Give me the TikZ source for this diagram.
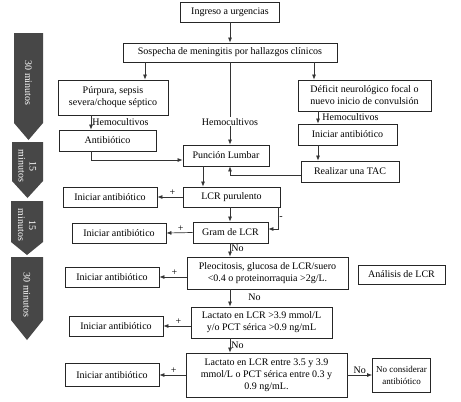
\documentclass[tikz,border=0pt]{standalone}
\usepackage{fontspec}
\setmainfont{Liberation Serif}
\usetikzlibrary{arrows.meta,calc}
\begin{document}
\begin{tikzpicture}[x=1pt,y=-1pt,
  box/.style={draw=black!85, line width=0.8pt, inner sep=1pt, align=center, font=\fontsize{10}{12}\selectfont},
  arr/.style={draw=black!80, line width=0.7pt, -{Latex[length=5pt,width=4pt]}},
  lab/.style={font=\fontsize{10}{12}\selectfont, inner sep=1pt},
  chev/.style={fill=black!72},
  chevtext/.style={rotate=-90, text=white, align=center, font=\fontsize{10}{11}\selectfont}]
\useasboundingbox (0,0) rectangle (461,402);
% time chevrons
\fill[chev] (14,33) -- (43,33) -- (43,123) -- (28.5,140) -- (14,123) -- cycle;
\node[chevtext] (t1) at (28.5,83) {30 minutos};
\fill[chev] (12,142) -- (43,142) -- (43,181) -- (27.5,198) -- (12,181) -- cycle;
\node[chevtext] (t2) at (27.5,166) {15\\minutos};
\fill[chev] (11,201) -- (43,201) -- (43,242) -- (27,255) -- (11,242) -- cycle;
\node[chevtext] (t3) at (27,225) {15\\minutos};
\fill[chev] (11,257) -- (43,257) -- (43,320) -- (27,340) -- (11,320) -- cycle;
\node[chevtext] (t4) at (27,295) {30 minutos};
% boxes
\node[box, minimum width=99, minimum height=20] (ing) at (230,12) {Ingreso a urgencias};
\node[box, minimum width=214, minimum height=19] (sos) at (230,52.5) {Sospecha de meningitis por hallazgos clínicos};
\node[box, minimum width=110, minimum height=35] (pur) at (113,97.5) {Púrpura, sepsis\\severa/choque séptico};
\node[box, minimum width=97, minimum height=21] (anti) at (107.5,140.5) {Antibiótico};
\node[box, minimum width=86, minimum height=21] (pun) at (226,155.5) {Punción Lumbar};
\node[box, minimum width=133, minimum height=31] (def) at (364.5,95.5) {Déficit neurológico focal o\\nuevo inicio de convulsión};
\node[box, minimum width=99, minimum height=21] (inr) at (347.5,134.5) {Iniciar antibiótico};
\node[box, minimum width=98, minimum height=21] (tac) at (350,171.5) {Realizar una TAC};
\node[box, minimum width=97, minimum height=20] (lcr) at (231.5,197) {LCR purulento};
\node[box, minimum width=75, minimum height=21] (gram) at (230.5,232.5) {Gram de LCR};
\node[box, minimum width=161, minimum height=32] (pleo) at (267.5,273) {Pleocitosis, glucosa de LCR/suero\\<0.4 o proteinorraquia >2g/L.};
\node[box, minimum width=87, minimum height=19] (ana) at (401.5,274.5) {Análisis de LCR};
\node[box, minimum width=141, minimum height=31] (lac1) at (261.5,322.5) {Lactato en LCR >3.9 mmol/L\\y/o PCT sérica >0.9 ng/mL};
\node[box, minimum width=161, minimum height=44] (lac2) at (266.5,375) {Lactato en LCR entre 3.5 y 3.9\\mmol/L o PCT sérica entre 0.3 y\\0.9 ng/mL.};
\node[box, minimum width=58, minimum height=34, font=\fontsize{9}{12}\selectfont] (nocon) at (401.5,375) {No considerar\\antibiótico};
\node[box, minimum width=94, minimum height=20] (i1) at (110,197) {Iniciar antibiótico};
\node[box, minimum width=94, minimum height=20] (i2) at (119,233) {Iniciar antibiótico};
\node[box, minimum width=94, minimum height=20] (i3) at (112,277) {Iniciar antibiótico};
\node[box, minimum width=94, minimum height=20] (i4) at (116,326) {Iniciar antibiótico};
\node[box, minimum width=94, minimum height=23] (i5) at (112,375) {Iniciar antibiótico};
% connectors
\draw[arr] (ing.south) -- (sos.north);
\draw[arr] ($(sos.south)+(-85,0)$) -- ($(pur.north)+(32,0)$);
\draw[arr] ($(sos.south)+(84,0)$) -- ($(def.north)+(-50.5,0)$);
\draw[arr] (sos.south) -- node[lab, pos=0.72, fill=white] {Hemocultivos} ($(pun.north)+(4,0)$);
\draw[arr] ($(pur.south)+(-22,0)$) -- node[lab, right, pos=0.45] {Hemocultivos} ($(anti.north)+(-16.5,0)$);
\draw[arr] ($(anti.south)+(-16.5,0)$) |- ($(pun.west)+(0,4.5)$);
\draw[arr] ($(def.south)+(-46.5,0)$) -- node[lab, right, pos=0.45, xshift=3pt] {Hemocultivos} ($(inr.north)+(-29.5,0)$);
\draw[arr] ($(inr.south)+(-29.5,0)$) -- ($(tac.north)+(-32,0)$);
\draw[arr] ($(tac.west)+(0,3.5)$) -| ($(pun.south)+(4,0)$);
\draw[arr] ($(pun.south)+(-23,0)$) -- ($(lcr.north)+(-28.5,0)$);
\draw[arr] (lcr.west) -- node[lab, above, pos=0.4] {+} (i1.east);
\draw[arr] ($(lcr.south)+(-1.5,0)$) -- ($(gram.north)+(-0.5,0)$);
\draw[arr] ($(lcr.south)+(46.5,0)$) |- node[lab, right, pos=0.25] {-} ($(gram.east)+(0,-3.5)$);
\draw[arr] (gram.west) -- node[lab, above, pos=0.45] {+} (i2.east);
\draw[arr] ($(gram.south)+(-0.5,0)$) -- node[lab, right, pos=0.4] {No} ($(pleo.north)+(-37.5,0)$);
\draw[arr] ($(pleo.west)+(0,4)$) -- node[lab, above, pos=0.45] {+} (i3.east);
\draw[arr] ($(pleo.south)+(-37.5,0)$) -- node[lab, right, pos=0.45, xshift=17pt] {No} ($(lac1.north)+(-31.5,0)$);
\draw[arr] ($(lac1.west)+(0,3.5)$) -- node[lab, above, pos=0.45] {+} (i4.east);
\draw[arr] ($(lac1.south)+(-31.5,0)$) -- node[lab, right, pos=0.45] {No} ($(lac2.north)+(-36.5,0)$);
\draw[arr] (lac2.west) -- node[lab, above, pos=0.45] {+} (i5.east);
\draw[arr] (lac2.east) -- node[lab, above, pos=0.5] {No} (nocon.west);
\end{tikzpicture}
\end{document}
